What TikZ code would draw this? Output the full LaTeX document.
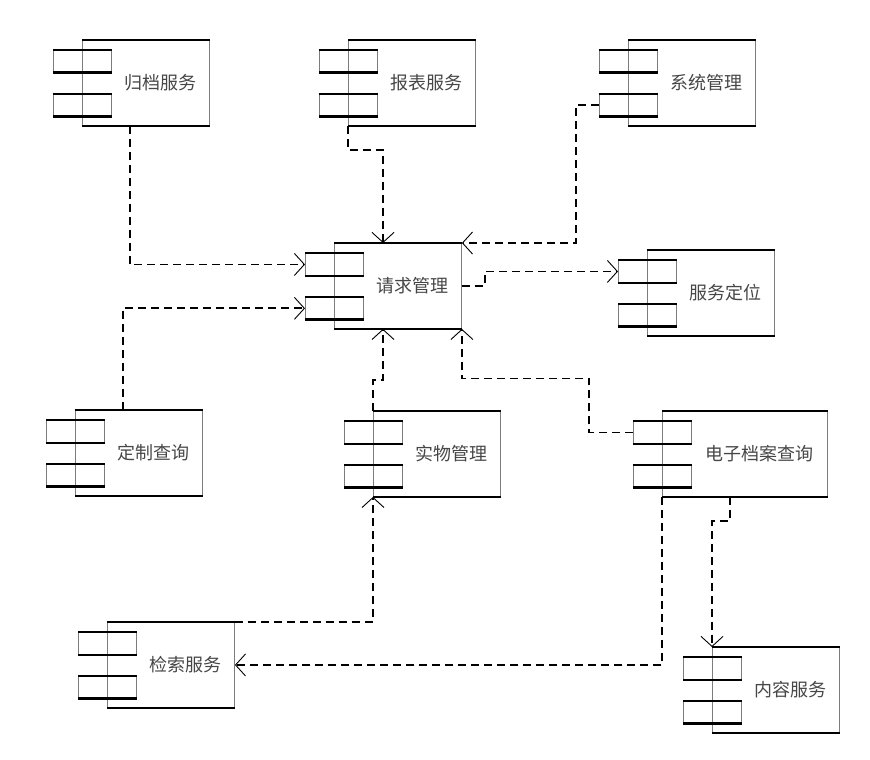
\documentclass[tikz,border=0pt]{standalone}
\usepackage{fontspec}
\newfontfamily\cjk{Noto Sans CJK SC}
\usetikzlibrary{positioning,arrows.meta}
\definecolor{ink}{RGB}{70,70,70}
\definecolor{side}{RGB}{125,125,125}

\tikzset{
  comp/.style={draw=side, line width=0.9pt, minimum width=127pt, minimum height=85pt,
    inner sep=0pt, anchor=north west, text=ink, font=\cjk\fontsize{18}{21}\selectfont,
    execute at begin node={\hspace*{29pt}}},
  wide/.style={minimum width=165pt},
  port/.style={draw=side, line width=0.9pt, minimum width=58pt, minimum height=22pt, inner sep=0pt},
  rim/.style={line width=2.8pt},
  dep/.style={dash pattern=on 8pt off 5pt, line width=1.8pt,
    -{Straight Barb[length=10pt,width=22pt,line width=0.9pt]}},
}

\begin{document}
\begin{tikzpicture}[x=1pt,y=-1pt]
  \useasboundingbox (0,0) rectangle (870,760);
  % components
  \node[comp] (gd) at (82,40) {归档服务};
  \node[comp] (bb) at (348,40) {报表服务};
  \node[comp] (xt) at (628,40) {系统管理};
  \node[comp] (qq) at (334,243) {请求管理};
  \node[comp] (fw) at (647,250) {服务定位};
  \node[comp] (dz) at (75,410) {定制查询};
  \node[comp] (sw) at (373,411) {实物管理};
  \node[comp, wide] (dd) at (662,411) {电子档案查询};
  \node[comp] (js) at (107,622) {检索服务};
  \node[comp] (nr) at (712,647) {内容服务};
  % ports and heavy edges
  \foreach \c in {gd,bb,xt,qq,fw,dz,sw,dd,js,nr} {
    \node[port, below right=10pt and -29pt of \c.north west] (\c1) {};
    \node[port, below=21pt of \c1] (\c2) {};
    \draw[rim] (\c.north west) -- (\c.north east) (\c.south west) -- (\c.south east);
    \draw[rim] (\c1.north west) -- (\c1.north east) (\c1.south west) -- (\c1.south east);
    \draw[rim] (\c2.north west) -- (\c2.north east) (\c2.south west) -- (\c2.south east);
  }
  % dependencies
  \draw[dep] ([xshift=48pt]gd.south west) |- (qq1.west);
  \draw[dep] (bb.south west) -- ++(0,24) -| ([xshift=49pt]qq.north west);
  \draw[dep] (xt2.west) -- ++(-23,0) |- (qq.north east);
  \draw[dep] (qq.east) -- ++(23,0) |- (fw1.west);
  \draw[dep] ([xshift=48pt]dz.north west) |- (qq2.west);
  \draw[dep] (sw.north west) -- ++(0,-31) -| ([xshift=49pt]qq.south west);
  \draw[dep] (dd1.west) -- ++(-44,0) -- ++(0,-54) -| (qq.south east);
  \draw[dep] (js.north east) -| (sw.south west);
  \draw[dep] (dd.south west) |- (js.east);
  \draw[dep] ([xshift=68pt]dd.south west) -- ++(0,24) -| (nr.north west);
\end{tikzpicture}
\end{document}
